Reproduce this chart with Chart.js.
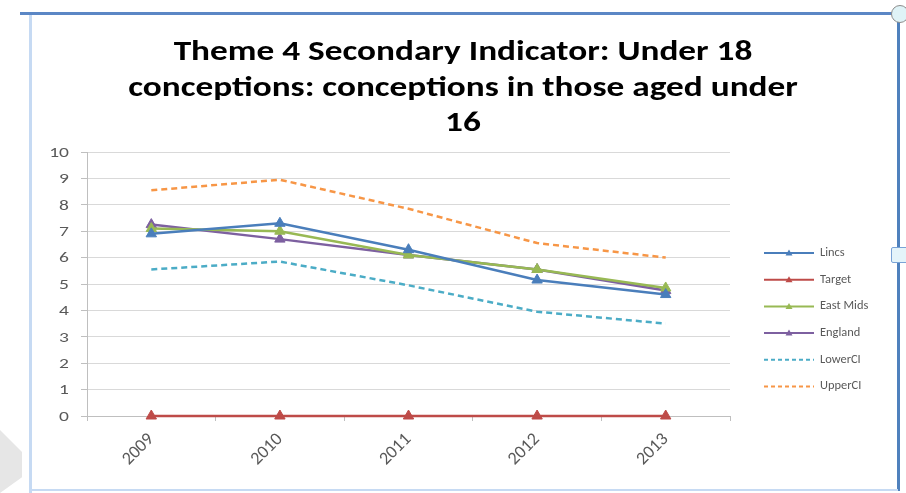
<!DOCTYPE html>
<html>
<head>
<meta charset="utf-8">
<script src="https://cdn.jsdelivr.net/npm/chart.js@4"></script>
<style>
  html, body { margin: 0; padding: 0; background: #fff; }
  #wrap { position: relative; width: 906px; height: 493px; overflow: hidden; }
  #myChart { position: absolute; left: 0; top: 0; }
  .edge { position: absolute; }
  #top { left: 20px; top: 12px; width: 878px; height: 3px; background: #5b87c5; }
  #left { left: 29px; top: 15px; width: 3px; height: 478px; background: #c6daf3; }
  #right { left: 897px; top: 15px; width: 3px; height: 476px; background: #4f81bd; }
  #bottom { left: 32px; top: 489px; width: 866px; height: 2px; background: #c6daf3; }
  #knob { left: 891px; top: 5px; width: 16px; height: 16px; border-radius: 50%;
          border: 1px solid #8c8c8c; background: #dff3f7; }
  #tab { left: 891px; top: 247px; width: 16px; height: 14px; border-radius: 2px;
         border: 1px solid #7aa3d6; background: #e4f4fa; }
  #shade { left: 0; top: 430px; width: 22px; height: 63px; background: #e6e6e6;
           clip-path: polygon(0 0, 100% 35%, 100% 75%, 0 100%); }
</style>
</head>
<body>
<div id="wrap">
  <div class="edge" id="shade"></div>
  <canvas id="myChart" width="906" height="493"></canvas>
  <div class="edge" id="top"></div>
  <div class="edge" id="left"></div>
  <div class="edge" id="right"></div>
  <div class="edge" id="bottom"></div>
  <div class="edge" id="knob"></div>
  <div class="edge" id="tab"></div>
</div>
<script>
var years = ["2009", "2010", "2011", "2012", "2013"];
var lincs = [6.9, 7.3, 6.3, 5.15, 4.6];
var target = [0, 0, 0, 0, 0];
var eastMids = [7.1, 7.0, 6.1, 5.55, 4.85];
var england = [7.25, 6.7, 6.1, 5.55, 4.75];
var lowerCI = [5.55, 5.85, 4.95, 3.95, 3.5];
var upperCI = [8.55, 8.95, 7.85, 6.55, 6.0];
var yTicks = [0, 1, 2, 3, 4, 5, 6, 7, 8, 9, 10];
var titleLines = ['Theme 4 Secondary Indicator: Under 18',
                  'conceptions: conceptions in those aged under',
                  '16'];

var font = "Carlito, 'Open Sans', 'Liberation Sans', sans-serif";
var wide = 1.26; // text in this chart is set a little wide

function solid(label, data, color) {
  return {
    label: label, data: data, borderColor: color, backgroundColor: color,
    borderWidth: 2.5, pointStyle: 'triangle', pointRadius: 6, pointBorderWidth: 1,
    tension: 0, clip: false
  };
}
function dashed(label, data, color) {
  return {
    label: label, data: data, borderColor: color, backgroundColor: color,
    borderWidth: 2.5, borderDash: [6, 4], pointRadius: 0, tension: 0, clip: false
  };
}

// draws text stretched horizontally around its anchor
function wideText(c, txt, x, y, align, sx) {
  c.save();
  c.translate(x, y);
  c.scale(sx, 1);
  c.textAlign = align;
  c.fillText(txt, 0, 0);
  c.restore();
}

// title, y tick labels and the side legend
var extras = {
  id: 'extras',
  afterDraw: function(chart) {
    var c = chart.ctx;
    c.save();

    c.fillStyle = '#000';
    c.font = "bold 28px " + font;
    c.textBaseline = 'alphabetic';
    titleLines.forEach(function(t, i) {
      wideText(c, t, 463, 60 + i * 35.5, 'center', wide);
    });

    var ys = chart.scales.y;
    c.fillStyle = '#595959';
    c.font = "15px " + font;
    c.textBaseline = 'middle';
    yTicks.forEach(function(v) {
      wideText(c, String(v), 69, ys.getPixelForValue(v) + 1, 'right', 1.3);
    });

    c.font = "11.5px " + font;
    chart.data.datasets.forEach(function(ds, i) {
      var y = 253 + i * 26.7;
      c.strokeStyle = ds.borderColor;
      c.lineWidth = 2;
      c.setLineDash(ds.borderDash ? [4, 3] : []);
      c.beginPath();
      c.moveTo(764, y);
      c.lineTo(814, y);
      c.stroke();
      c.setLineDash([]);
      if (ds.pointRadius) {
        c.fillStyle = ds.borderColor;
        c.beginPath();
        c.moveTo(789, y - 3.5);
        c.lineTo(792.5, y + 2.5);
        c.lineTo(785.5, y + 2.5);
        c.closePath();
        c.fill();
      }
      c.fillStyle = '#595959';
      wideText(c, ds.label, 820, y, 'left', 1.08);
    });
    c.restore();
  }
};

var ctx = document.getElementById("myChart").getContext('2d');
var myChart = new Chart(ctx, {
  type: 'line',
  data: {
    labels: years,
    datasets: [
      solid('Lincs', lincs, '#4a7ebb'),
      solid('Target', target, '#be4b48'),
      solid('East Mids', eastMids, '#98b954'),
      solid('England', england, '#7d60a0'),
      dashed('LowerCI', lowerCI, '#4bacc6'),
      dashed('UpperCI', upperCI, '#f79646')
    ]
  },
  options: {
    responsive: false,
    animation: false,
    layout: { padding: { left: 0, right: 176, top: 152, bottom: 0 } },
    plugins: {
      legend: { display: false },
      tooltip: { enabled: false },
      title: { display: false }
    },
    scales: {
      x: {
        offset: true,
        grid: { offset: true, drawOnChartArea: false, drawTicks: true, tickLength: 5, color: '#bfbfbf' },
        border: { color: '#bfbfbf' },
        ticks: { color: '#595959', font: { family: font, size: 18 }, minRotation: 45, maxRotation: 45, padding: 8 },
        afterFit: function(scale) { scale.height = 77; }
      },
      y: {
        min: 0, max: 10,
        afterBuildTicks: function(scale) {
          scale.ticks = yTicks.map(function(v) { return { value: v }; });
        },
        grid: { color: '#d9d9d9', tickLength: 6, tickColor: '#bfbfbf' },
        border: { color: '#bfbfbf' },
        ticks: { color: 'rgba(0,0,0,0)', font: { family: font, size: 12 } },
        afterFit: function(scale) { scale.width = 87; }
      }
    }
  },
  plugins: [extras]
});
</script>
</body>
</html>
